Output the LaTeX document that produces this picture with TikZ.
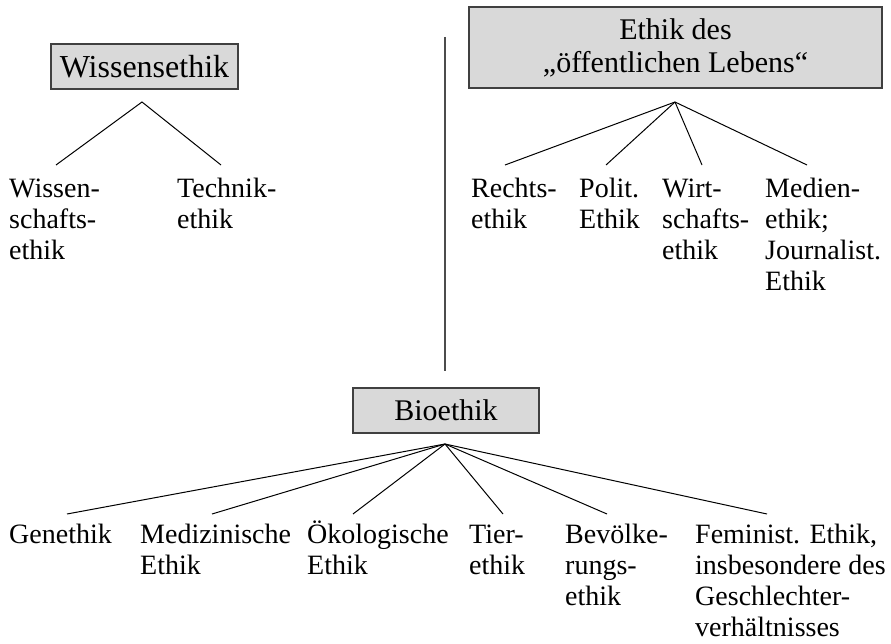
\documentclass[tikz,border=0pt]{standalone}
\usepackage{fontspec}
\setmainfont{Liberation Serif}
\tikzset{
  catbox/.style={draw=black!75, line width=1.3pt, fill=gray!30, inner sep=0pt, align=center, font=\fontsize{30}{33}\selectfont},
  leaf/.style={anchor=base west, inner sep=0pt, font=\fontsize{28}{31}\selectfont},
  branch/.style={line width=1pt, black},
  divider/.style={line width=1.6pt, black!70},
}
\newcommand{\lv}[1]{{\def\\{\cr}\vtop{\baselineskip=31pt\lineskiplimit=-100pt\halign{##\hfil\cr#1\crcr}}}}
\begin{document}
\begin{tikzpicture}[x=1pt, y=-1pt]
\useasboundingbox (0,0) rectangle (891,644);

% category boxes
\node[catbox, minimum width=187pt, minimum height=45pt, font=\fontsize{32}{33}\selectfont] (wiss) at (144.5,66.5) {Wissensethik};
\node[catbox, minimum width=413pt, minimum height=81pt] (oeff) at (675.5,47.5) {Ethik des\\„öffentlichen Lebens“};
\node[catbox, minimum width=186pt, minimum height=45pt] (bio) at (446,410.5) {Bioethik};

% divider
\coordinate (vtop) at (445,37);
\coordinate (vbot) at (445,371);
\draw[divider] (vtop) -- (vbot);

% leaves: Wissensethik
\node[leaf] (wse) at (9,198) {\lv{Wissen-\\schafts-\\ethik}};
\node[leaf] (tech) at (177,198) {\lv{Technik-\\ethik}};

% leaves: oeffentliches Leben
\node[leaf] (recht) at (471,198) {\lv{Rechts-\\ethik}};
\node[leaf] (polit) at (579,198) {\lv{Polit.\\Ethik}};
\node[leaf] (wirt) at (662,198) {\lv{Wirt-\\schafts-\\ethik}};
\node[leaf] (medien) at (765,198) {\lv{Medien-\\ethik;\\Journalist.\\Ethik}};

% leaves: Bioethik
\node[leaf] (gen) at (9,543) {\lv{Genethik}};
\node[leaf] (med) at (140,543) {\lv{Medizinische\\Ethik}};
\node[leaf] (oek) at (307,543) {\lv{Ökologische\\Ethik}};
\node[leaf] (tier) at (469,543) {\lv{Tier-\\ethik}};
\node[leaf] (bev) at (565,543) {\lv{Bevölke-\\rungs-\\ethik}};
\node[leaf] (fem) at (695,543) {\lv{Feminist. Ethik,\\insbesondere des\\Geschlechter-\\verhältnisses}};

% apex points
\coordinate (wa) at (142,102);
\coordinate (oa) at (675,102);
\coordinate (ba) at (445,444);

% branch ends
\coordinate (wse-e) at (56,165);
\coordinate (tech-e) at (221,165);
\coordinate (recht-e) at (505,165);
\coordinate (polit-e) at (606,165);
\coordinate (wirt-e) at (702,165);
\coordinate (medien-e) at (807,165);
\coordinate (gen-e) at (67,514);
\coordinate (med-e) at (212,514);
\coordinate (oek-e) at (353,514);
\coordinate (tier-e) at (503,514);
\coordinate (bev-e) at (607,514);
\coordinate (fem-e) at (767,514);

\draw[branch] (wse-e) -- (wa) -- (tech-e);
\foreach \e in {recht-e, polit-e, wirt-e, medien-e} \draw[branch] (oa) -- (\e);
\foreach \e in {gen-e, med-e, oek-e, tier-e, bev-e, fem-e} \draw[branch] (ba) -- (\e);
\end{tikzpicture}
\end{document}
